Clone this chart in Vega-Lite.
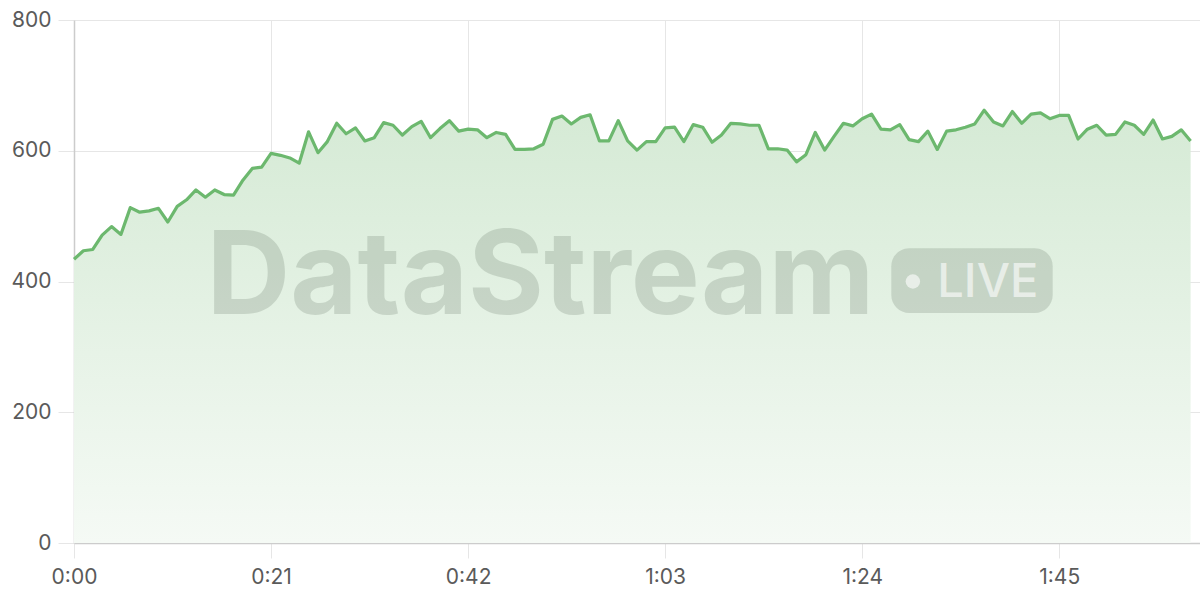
{
  "$schema": "https://vega.github.io/schema/vega-lite/v6.json",
  "width": 1126,
  "height": 523,
  "autosize": {"type": "none"},
  "padding": {"left": 74, "top": 20, "right": 0, "bottom": 57},
  "background": "white",
  "datasets": {
    "stream": [
      {"t": 0, "value": 434}, {"t": 1, "value": 447}, {"t": 2, "value": 449}, {"t": 3, "value": 471},
      {"t": 4, "value": 484}, {"t": 5, "value": 472}, {"t": 6, "value": 513}, {"t": 7, "value": 506},
      {"t": 8, "value": 508}, {"t": 9, "value": 512}, {"t": 10, "value": 491}, {"t": 11, "value": 515},
      {"t": 12, "value": 525}, {"t": 13, "value": 540}, {"t": 14, "value": 529}, {"t": 15, "value": 540},
      {"t": 16, "value": 533}, {"t": 17, "value": 532}, {"t": 18, "value": 555}, {"t": 19, "value": 573},
      {"t": 20, "value": 575}, {"t": 21, "value": 596}, {"t": 22, "value": 593}, {"t": 23, "value": 589},
      {"t": 24, "value": 581}, {"t": 25, "value": 629}, {"t": 26, "value": 597}, {"t": 27, "value": 614},
      {"t": 28, "value": 642}, {"t": 29, "value": 626}, {"t": 30, "value": 635}, {"t": 31, "value": 615},
      {"t": 32, "value": 620}, {"t": 33, "value": 643}, {"t": 34, "value": 639}, {"t": 35, "value": 624},
      {"t": 36, "value": 637}, {"t": 37, "value": 645}, {"t": 38, "value": 620}, {"t": 39, "value": 634},
      {"t": 40, "value": 646}, {"t": 41, "value": 630}, {"t": 42, "value": 633}, {"t": 43, "value": 632},
      {"t": 44, "value": 620}, {"t": 45, "value": 628}, {"t": 46, "value": 625}, {"t": 47, "value": 602},
      {"t": 48, "value": 602}, {"t": 49, "value": 603}, {"t": 50, "value": 610}, {"t": 51, "value": 648},
      {"t": 52, "value": 653}, {"t": 53, "value": 641}, {"t": 54, "value": 651}, {"t": 55, "value": 655},
      {"t": 56, "value": 615}, {"t": 57, "value": 615}, {"t": 58, "value": 646}, {"t": 59, "value": 615},
      {"t": 60, "value": 601}, {"t": 61, "value": 614}, {"t": 62, "value": 614}, {"t": 63, "value": 635},
      {"t": 64, "value": 636}, {"t": 65, "value": 614}, {"t": 66, "value": 640}, {"t": 67, "value": 636},
      {"t": 68, "value": 613}, {"t": 69, "value": 624}, {"t": 70, "value": 642}, {"t": 71, "value": 641},
      {"t": 72, "value": 639}, {"t": 73, "value": 639}, {"t": 74, "value": 603}, {"t": 75, "value": 603},
      {"t": 76, "value": 601}, {"t": 77, "value": 583}, {"t": 78, "value": 594}, {"t": 79, "value": 628},
      {"t": 80, "value": 601}, {"t": 81, "value": 622}, {"t": 82, "value": 642}, {"t": 83, "value": 638},
      {"t": 84, "value": 649}, {"t": 85, "value": 656}, {"t": 86, "value": 633}, {"t": 87, "value": 632},
      {"t": 88, "value": 640}, {"t": 89, "value": 617}, {"t": 90, "value": 614}, {"t": 91, "value": 630},
      {"t": 92, "value": 602}, {"t": 93, "value": 630}, {"t": 94, "value": 632}, {"t": 95, "value": 636},
      {"t": 96, "value": 641}, {"t": 97, "value": 662}, {"t": 98, "value": 644}, {"t": 99, "value": 638},
      {"t": 100, "value": 660}, {"t": 101, "value": 642}, {"t": 102, "value": 656}, {"t": 103, "value": 658},
      {"t": 104, "value": 649}, {"t": 105, "value": 654}, {"t": 106, "value": 654}, {"t": 107, "value": 618},
      {"t": 108, "value": 633}, {"t": 109, "value": 639}, {"t": 110, "value": 624}, {"t": 111, "value": 625},
      {"t": 112, "value": 644}, {"t": 113, "value": 639}, {"t": 114, "value": 625}, {"t": 115, "value": 647},
      {"t": 116, "value": 618}, {"t": 117, "value": 622}, {"t": 118, "value": 632}, {"t": 119, "value": 615}
    ],
    "brand": [{"label": "DataStream"}],
    "badge": [{"label": "LIVE"}]
  },
  "layer": [
    {
      "data": {"name": "stream"},
      "mark": {
        "type": "area",
        "color": {
          "gradient": "linear",
          "x1": 1, "y1": 1, "x2": 1, "y2": 0,
          "stops": [
            {"offset": 0, "color": "#f5faf5"},
            {"offset": 1, "color": "#d5ead5"}
          ]
        }
      },
      "encoding": {
        "x": {
          "field": "t",
          "type": "quantitative",
          "scale": {"domain": [0, 120], "nice": false},
          "axis": {
            "title": null,
            "values": [0, 21, 42, 63, 84, 105],
            "labelExpr": "floor(datum.value / 60) + ':' + (datum.value % 60 < 10 ? '0' : '') + (datum.value % 60)",
            "labelFlush": false,
            "tickSize": 15,
            "labelPadding": 8
          }
        },
        "y": {
          "field": "value",
          "type": "quantitative",
          "scale": {"domain": [0, 800], "nice": false},
          "axis": {
            "title": null,
            "values": [0, 200, 400, 600, 800],
            "tickSize": 16,
            "labelPadding": 7
          }
        }
      }
    },
    {
      "data": {"name": "brand"},
      "mark": {
        "type": "text",
        "font": "Inter",
        "fontWeight": "bold",
        "fontSize": 116,
        "align": "center",
        "baseline": "alphabetic",
        "fill": "#566656",
        "opacity": 0.2
      },
      "encoding": {
        "x": {"datum": 49.7, "type": "quantitative"},
        "y": {"datum": 350, "type": "quantitative"},
        "text": {"field": "label"}
      }
    },
    {
      "data": {"name": "badge"},
      "mark": {
        "type": "rect",
        "cornerRadius": 18,
        "fill": "#566656",
        "opacity": 0.2
      },
      "encoding": {
        "x": {"datum": 87.1, "type": "quantitative"},
        "x2": {"datum": 104.3},
        "y": {"datum": 451, "type": "quantitative"},
        "y2": {"datum": 352}
      }
    },
    {
      "data": {"name": "badge"},
      "mark": {
        "type": "point",
        "shape": "circle",
        "filled": true,
        "size": 210,
        "color": "white",
        "opacity": 0.6
      },
      "encoding": {
        "x": {"datum": 89.4, "type": "quantitative"},
        "y": {"datum": 400, "type": "quantitative"}
      }
    },
    {
      "data": {"name": "badge"},
      "mark": {
        "type": "text",
        "font": "Inter",
        "fontWeight": 500,
        "fontSize": 47,
        "align": "left",
        "baseline": "alphabetic",
        "fill": "white",
        "opacity": 0.6
      },
      "encoding": {
        "x": {"datum": 92.0, "type": "quantitative"},
        "y": {"datum": 376, "type": "quantitative"},
        "text": {"field": "label"}
      }
    },
    {
      "data": {"name": "stream"},
      "mark": {
        "type": "line",
        "color": "#6cb86e",
        "strokeWidth": 3.2,
        "strokeJoin": "round"
      },
      "encoding": {
        "x": {"field": "t", "type": "quantitative"},
        "y": {"field": "value", "type": "quantitative"}
      }
    }
  ],
  "config": {
    "view": {"stroke": null},
    "axis": {
      "labelFont": "Inter",
      "labelFontSize": 21,
      "labelColor": "#5a5a5a",
      "gridColor": "#e6e6e6",
      "tickColor": "#e6e6e6",
      "domainColor": "#cccccc",
      "domainWidth": 1.5
    }
  }
}
